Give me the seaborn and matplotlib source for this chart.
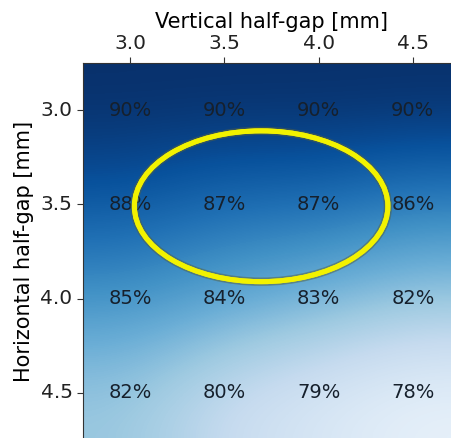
import numpy as np
import pandas as pd
import matplotlib
matplotlib.use("Agg")
import matplotlib.pyplot as plt
import matplotlib.patheffects as pe
from matplotlib.patches import Ellipse
import seaborn as sns

# Data: transmission vs half-gaps
vertical_gap = ["3.0", "3.5", "4.0", "4.5"]
horizontal_gap = ["3.0", "3.5", "4.0", "4.5"]
row_30 = [0.90, 0.90, 0.90, 0.90]
row_35 = [0.88, 0.87, 0.87, 0.86]
row_40 = [0.85, 0.84, 0.83, 0.82]
row_45 = [0.82, 0.80, 0.79, 0.78]

data = pd.DataFrame([row_30, row_35, row_40, row_45],
                    index=horizontal_gap, columns=vertical_gap)

# colour range (slightly below the minimum so the bottom row is not pure white)
vmin, vmax = 0.77, 0.90

fig = plt.figure(figsize=(4.52, 4.38), dpi=100)
ax = fig.add_axes([83 / 452, -2 / 438, 377 / 452, 377 / 438])

sns.heatmap(data, ax=ax, cmap="Blues", vmin=vmin, vmax=vmax, cbar=False,
            annot=True, fmt=".0%",
            annot_kws={"color": "#16202c", "fontsize": 14})

# smooth version of the same grid on top of the mesh, under the labels
ax.imshow(data.values, cmap="Blues", vmin=vmin, vmax=vmax,
          interpolation="bicubic", extent=(0, 4, 4, 0), aspect="auto", zorder=1.5)
ax.set_xlim(0, 4)
ax.set_ylim(4, 0)

# spines back on (heatmap removes them)
for s in ax.spines.values():
    s.set_visible(True)
    s.set_color("#333333")
    s.set_linewidth(0.8)

ax.xaxis.tick_top()
ax.xaxis.set_label_position("top")
ax.set_xlabel("Vertical half-gap [mm]", fontsize=15, labelpad=4)
ax.set_ylabel("Horizontal half-gap [mm]", fontsize=15, labelpad=5)
ax.tick_params(labelsize=14.5, length=4, color="#333333", labelcolor="#222222")
plt.setp(ax.get_yticklabels(), rotation=0)
plt.setp(ax.get_xticklabels(), rotation=0)

# highlight the 3.5 mm row around the middle columns
ring = Ellipse((1.89, 1.52), 2.69, 1.60, fill=False, edgecolor="#f2f200",
               linewidth=3.6, zorder=4)
ring.set_path_effects([pe.withStroke(linewidth=6, foreground="#556040", alpha=0.5),
                       pe.Normal()])
ax.add_patch(ring)

fig.savefig("out.png", dpi=100, facecolor="white")
